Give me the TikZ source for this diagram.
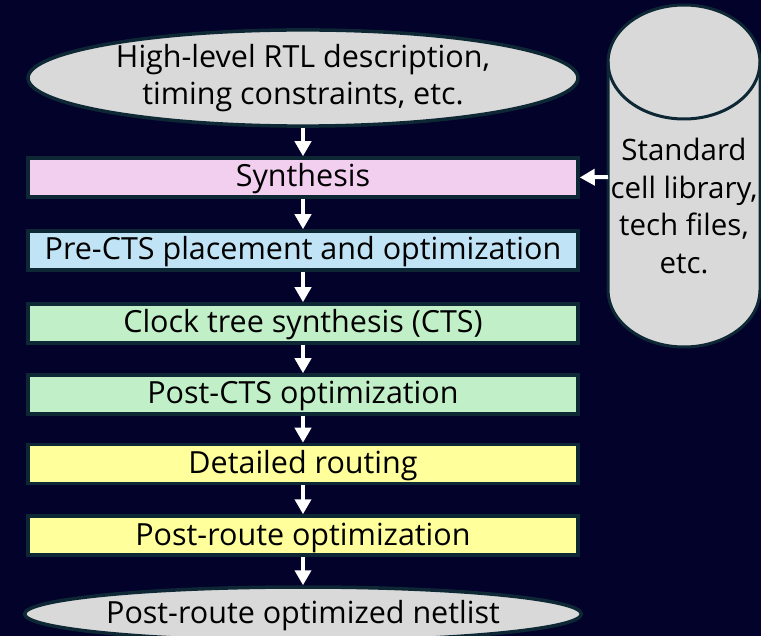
\documentclass[tikz,border=0pt]{standalone}
\usepackage{fontspec}
\setmainfont{Open Sans}
\usetikzlibrary{shapes.geometric,arrows.meta}
\definecolor{bg}{HTML}{02022A}
\definecolor{bord}{HTML}{0D2834}
\definecolor{greyf}{HTML}{D9D9D9}
\definecolor{pinkf}{HTML}{F2CEEF}
\definecolor{bluef}{HTML}{C0E4F5}
\definecolor{greenf}{HTML}{C1F0C8}
\definecolor{yellowf}{HTML}{FFFF9B}
\tikzset{
  ellip/.style={ellipse, draw=bord, line width=3.5pt, fill=greyf, minimum width=550pt, inner sep=0pt, align=center},
  stagebox/.style={rectangle, draw=bord, line width=3.5pt, minimum width=550pt, minimum height=39pt, inner sep=0pt, text height=22pt, text depth=3pt},
  flowarr/.style={draw=white, line width=4pt, -{Triangle[width=16pt,length=15pt]}, white},
  txt/.style={font=\fontsize{30.5}{37.5}\selectfont}
}
\begin{document}
\begin{tikzpicture}[x=1pt,y=1pt,txt]
\fill[bg] (0,0) rectangle (761,-636);
\useasboundingbox (0,0) rectangle (761,-636);
\clip (0,0) rectangle (761,-636);
% cylinder
\filldraw[draw=bord, fill=greyf, line width=3pt]
  (608,-62) -- (608,-290) arc[start angle=180, end angle=360, x radius=76, y radius=57] -- (760,-62)
  arc[start angle=0, end angle=180, x radius=76, y radius=57] -- cycle;
\draw[bord, line width=3pt] (608,-62) arc[start angle=180, end angle=360, x radius=76, y radius=57];
\node[align=center, inner sep=0pt, font=\fontsize{29.5}{37.5}\selectfont] (lib) at (684,-206) {Standard\\cell library,\\tech files,\\etc.};
\coordinate (libin) at (608,-177);
% nodes
\node[ellip, minimum height=86pt] (rtl) at (303,-78) {High-level RTL description,\\timing constraints, etc.};
\node[stagebox, fill=pinkf] (syn) at (303,-177.5) {Synthesis};
\node[stagebox, fill=bluef] (pre) at (303,-250.5) {Pre-CTS placement and optimization};
\node[stagebox, fill=greenf] (cts) at (303,-323.5) {Clock tree synthesis (CTS)};
\node[stagebox, fill=greenf] (pcts) at (303,-394.5) {Post-CTS optimization};
\node[stagebox, fill=yellowf] (det) at (303,-464) {Detailed routing};
\node[stagebox, fill=yellowf] (proute) at (303,-535.5) {Post-route optimization};
\node[ellip, minimum height=54pt, text height=22pt, text depth=3pt] (net) at (303,-614) {Post-route optimized netlist};
% arrows
\draw[flowarr] (rtl) -- (syn);
\draw[flowarr] (syn) -- (pre);
\draw[flowarr] (pre) -- (cts);
\draw[flowarr] (cts) -- (pcts);
\draw[flowarr] (pcts) -- (det);
\draw[flowarr] (det) -- (proute);
\draw[flowarr] (proute) -- (net);
\draw[flowarr] (libin) -- (syn.east);
\end{tikzpicture}
\end{document}
